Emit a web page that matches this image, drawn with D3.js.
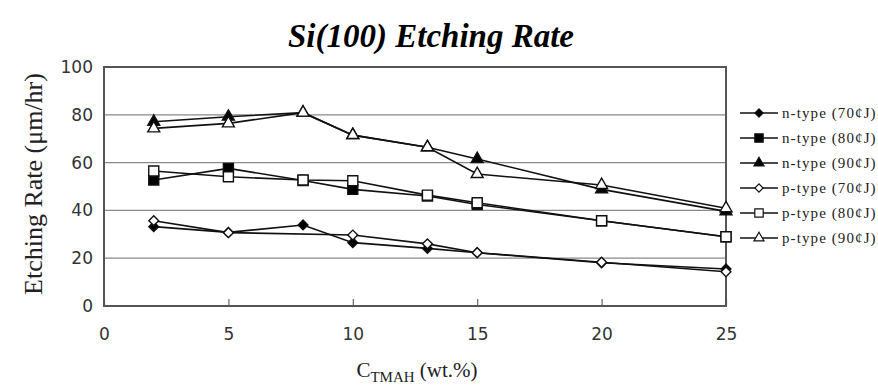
<!DOCTYPE html>
<html>
<head>
<meta charset="utf-8">
<script src="https://cdn.jsdelivr.net/npm/d3@7"></script>
<style>
  body { margin: 0; background: #fff; }
  svg { display: block; }
</style>
</head>
<body>
<div id="chart"></div>
<script>
// TMAH concentration (wt.%)
const xValues = [2, 5, 8, 10, 13, 15, 20, 25];

// etching rates, null = no point measured
const nType70 = [33.2, 30.8, 33.9, 26.5, 24.1, 22.3, 18.1, 15.5];
const nType80 = [52.7, 57.6, 52.5, 48.8, 46.0, 42.5, 35.7, 29.0];
const nType90 = [77.1, 79.2, 80.9, 71.5, 66.4, 61.5, 48.8, 39.6];
const pType70 = [35.7, 30.7, null, 29.7, 26.0, 22.3, 18.3, 14.3];
const pType80 = [56.5, 54.1, 52.7, 52.4, 46.4, 43.2, 35.7, 29.0];
const pType90 = [74.3, 76.4, 80.9, 71.5, 66.4, 55.2, 50.6, 40.9];

const seriesNames = ["n-type (70¢J)", "n-type (80¢J)", "n-type (90¢J)",
                     "p-type (70¢J)", "p-type (80¢J)", "p-type (90¢J)"];
const xTicks = [0, 5, 10, 15, 20, 25];
const yTicks = [0, 20, 40, 60, 80, 100];

// diamond = square turned 45deg
const series = [
  { name: seriesNames[0], values: nType70, shape: d3.symbolSquare, size: 48, rot: 45, fill: "#000" },
  { name: seriesNames[1], values: nType80, shape: d3.symbolSquare, size: 100, rot: 0, fill: "#000" },
  { name: seriesNames[2], values: nType90, shape: d3.symbolTriangle, size: 62, rot: 0, fill: "#000" },
  { name: seriesNames[3], values: pType70, shape: d3.symbolSquare, size: 48, rot: 45, fill: "#fff" },
  { name: seriesNames[4], values: pType80, shape: d3.symbolSquare, size: 100, rot: 0, fill: "#fff" },
  { name: seriesNames[5], values: pType90, shape: d3.symbolTriangle, size: 62, rot: 0, fill: "#fff" }
];

const width = 878, height = 388;
const svg = d3.select("#chart").append("svg")
  .attr("width", width)
  .attr("height", height);

const x = d3.scaleLinear().domain([0, 25]).range([104, 726]);
const y = d3.scaleLinear().domain([0, 100]).range([306, 67]);

// title
svg.append("text")
  .attr("x", 431)
  .attr("y", 47)
  .attr("text-anchor", "middle")
  .style("font-family", "'Liberation Serif', 'Times New Roman', serif")
  .style("font-weight", "bold")
  .style("font-style", "italic")
  .style("font-size", "33px")
  .text("Si(100) Etching Rate");

// gridlines
svg.append("g")
  .selectAll("line")
  .data(yTicks.filter(d => d > 0 && d < 100))
  .join("line")
  .attr("x1", x(0)).attr("x2", x(25))
  .attr("y1", d => y(d)).attr("y2", d => y(d))
  .attr("stroke", "#8a8a8a")
  .attr("stroke-width", 1.2);

// x axis ticks (pointing inward)
const xAxis = d3.axisBottom(x).tickValues(xTicks).tickSize(-7).tickPadding(22).tickFormat(d3.format("d"));
const gx = svg.append("g")
  .attr("transform", `translate(0,${y(0)})`)
  .call(xAxis);
gx.select(".domain").remove();
gx.selectAll(".tick line").attr("stroke", "#666").attr("stroke-width", 1.2);
gx.selectAll(".tick text")
  .style("font-family", "'DejaVu Sans', sans-serif")
  .style("font-size", "17px")
  .attr("fill", "#333");

const yAxis = d3.axisLeft(y).tickValues(yTicks).tickSize(0).tickPadding(11);
const gy = svg.append("g")
  .attr("transform", `translate(${x(0)},0)`)
  .call(yAxis);
gy.select(".domain").remove();
gy.selectAll(".tick text")
  .style("font-family", "'DejaVu Sans', sans-serif")
  .style("font-size", "17px")
  .attr("fill", "#333");

// plot frame
svg.append("rect")
  .attr("x", x(0)).attr("y", y(100))
  .attr("width", x(25) - x(0)).attr("height", y(0) - y(100))
  .attr("fill", "none")
  .attr("stroke", "#555")
  .attr("stroke-width", 2);

// lines and markers
const line = d3.line()
  .x(d => x(d[0]))
  .y(d => y(d[1]));

series.forEach(s => {
  const pts = xValues.map((xv, i) => [xv, s.values[i]]).filter(d => d[1] != null);
  svg.append("path")
    .datum(pts)
    .attr("d", line)
    .attr("fill", "none")
    .attr("stroke", "#111")
    .attr("stroke-width", 1.6);
});

series.forEach(s => {
  const pts = xValues.map((xv, i) => [xv, s.values[i]]).filter(d => d[1] != null);
  svg.append("g")
    .selectAll("path")
    .data(pts)
    .join("path")
    .attr("transform", d => `translate(${x(d[0])},${y(d[1])}) rotate(${s.rot})`)
    .attr("d", d3.symbol().type(s.shape).size(s.size))
    .attr("fill", s.fill)
    .attr("stroke", "#111")
    .attr("stroke-width", 1.4);
});

// legend
const legend = svg.append("g");
series.forEach((s, i) => {
  const ly = 113 + i * 25;
  legend.append("line")
    .attr("x1", 740).attr("x2", 778)
    .attr("y1", ly).attr("y2", ly)
    .attr("stroke", "#111")
    .attr("stroke-width", 1.4);
  legend.append("path")
    .attr("transform", `translate(759,${ly}) rotate(${s.rot})`)
    .attr("d", d3.symbol().type(s.shape).size(s.size * 0.7))
    .attr("fill", s.fill)
    .attr("stroke", "#111")
    .attr("stroke-width", 1.2);
  legend.append("text")
    .attr("x", 782)
    .attr("y", ly + 5)
    .style("font-family", "'Liberation Serif', 'Times New Roman', serif")
    .style("font-size", "15px")
    .style("letter-spacing", "1.1px")
    .attr("fill", "#222")
    .text(s.name);
});

// axis titles
svg.append("text")
  .attr("transform", "translate(42,184) rotate(-90)")
  .attr("text-anchor", "middle")
  .style("font-family", "'Liberation Serif', 'Times New Roman', serif")
  .style("font-size", "26px")
  .attr("fill", "#222")
  .text("Etching Rate (μm/hr)");

const xt = svg.append("text")
  .attr("x", 417)
  .attr("y", 377)
  .attr("text-anchor", "middle")
  .style("font-family", "'Liberation Serif', 'Times New Roman', serif")
  .style("font-size", "21px")
  .attr("fill", "#222");
xt.append("tspan").text("C");
xt.append("tspan").attr("dy", 5).style("font-size", "15px").text("TMAH");
xt.append("tspan").attr("dy", -5).text(" (wt.%)");
</script>
</body>
</html>
